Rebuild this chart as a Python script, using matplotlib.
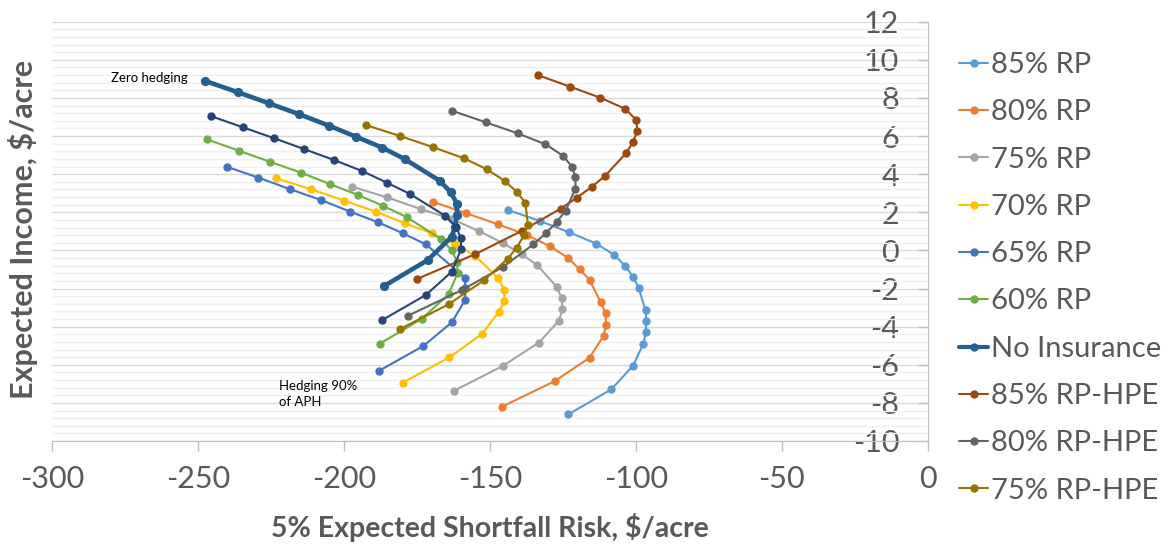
import matplotlib
matplotlib.use('Agg')
import matplotlib.pyplot as plt
from matplotlib.lines import Line2D
from matplotlib.ticker import MultipleLocator

plt.rcParams['font.family'] = ['Lato', 'DejaVu Sans']

# ---- data ----
series_names = ['85% RP', '80% RP', '75% RP', '70% RP', '65% RP', '60% RP',
                'No Insurance', '85% RP-HPE', '80% RP-HPE', '75% RP-HPE', '70% RP-HPE']
series_colors = ['#5B9BD5', '#ED7D31', '#A5A5A5', '#FFC000', '#4472C4', '#70AD47',
                 '#255E91', '#9E480E', '#636363', '#997300', '#264478']

rp85_x = [-143.9, -132.8, -122.8, -113.6, -107.4, -103.6, -100.9, -99.1, -96.7, -96.4, -96.7, -97.4, -101.0, -108.4, -123.1]
rp85_y = [2.12, 1.54, 0.94, 0.36, -0.24, -0.82, -1.40, -1.96, -3.14, -3.70, -4.30, -4.89, -6.05, -7.29, -8.60]

rp80_x = [-169.7, -158.2, -147.2, -137.4, -129.4, -123.4, -119.3, -115.9, -112.1, -110.4, -110.3, -111.0, -115.9, -127.7, -145.9]
rp80_y = [2.56, 1.95, 1.37, 0.81, 0.21, -0.38, -0.99, -1.54, -2.72, -3.29, -3.89, -4.47, -5.63, -6.85, -8.20]

rp75_x = [-197.2, -185.2, -173.7, -163.1, -153.6, -145.4, -139.1, -133.9, -127.1, -125.4, -125.2, -126.3, -133.3, -145.6, -162.5]
rp75_y = [3.34, 2.78, 2.17, 1.65, 1.00, 0.37, -0.21, -0.76, -1.92, -2.51, -3.09, -3.68, -4.84, -6.06, -7.38]

rp70_x = [-223.3, -211.4, -200.0, -189.1, -179.1, -169.9, -161.9, -155.1, -147.1, -145.1, -145.1, -146.9, -152.8, -163.9, -179.9]
rp70_y = [3.78, 3.21, 2.61, 2.03, 1.42, 0.90, 0.33, -0.29, -1.46, -2.08, -2.64, -3.22, -4.39, -5.61, -6.94]

rp65_x = [-240.2, -229.4, -218.5, -208.0, -197.9, -188.4, -179.9, -172.0, -158.5, -158.5, -158.5, -163.1, -172.8, -188.2]
rp65_y = [4.39, 3.82, 3.21, 2.65, 2.03, 1.48, 0.90, 0.32, -1.43, -1.99, -2.60, -3.78, -5.01, -6.33]

rp60_x = [-247.1, -236.0, -225.4, -214.8, -204.8, -195.3, -186.5, -178.5, -166.7, -163.1, -161.3, -161.1, -164.2, -173.4, -187.7]
rp60_y = [5.83, 5.23, 4.65, 4.08, 3.48, 2.91, 2.33, 1.74, 0.58, 0.00, -0.61, -1.18, -2.31, -3.59, -4.89]

noins_x = [-247.6, -236.4, -225.8, -215.3, -205.1, -196.0, -186.9, -179.3, -167.3, -163.4, -161.4, -161.3, -162.0, -163.1, -171.3, -186.3]
noins_y = [8.89, 8.30, 7.72, 7.14, 6.54, 5.97, 5.39, 4.80, 3.66, 3.05, 2.46, 1.86, 1.24, 0.72, -0.50, -1.87]

hpe85_x = [-133.5, -122.5, -112.2, -103.7, -99.8, -99.6, -100.9, -103.4, -110.5, -115.1, -120.2, -125.8, -139.0, -155.1, -174.9]
hpe85_y = [9.19, 8.59, 8.01, 7.43, 6.84, 6.28, 5.69, 5.10, 3.92, 3.34, 2.77, 2.19, 1.03, -0.20, -1.49]

hpe80_x = [-163.1, -151.4, -140.5, -131.0, -125.0, -121.9, -120.7, -120.7, -124.1, -127.2, -130.9, -135.1, -145.4, -159.6, -178.0]
hpe80_y = [7.33, 6.72, 6.14, 5.57, 4.97, 4.39, 3.83, 3.24, 2.08, 1.48, 0.90, 0.32, -0.85, -2.08, -3.42]

hpe75_x = [-192.6, -180.8, -169.4, -158.9, -151.1, -145.0, -140.8, -137.9, -137.0, -138.3, -140.8, -143.9, -151.9, -164.2, -181.0]
hpe75_y = [6.58, 6.00, 5.41, 4.83, 4.26, 3.65, 3.07, 2.50, 1.33, 0.81, 0.15, -0.43, -1.55, -2.83, -4.14]

hpe70_x = [-245.7, -234.7, -223.9, -213.6, -203.4, -193.9, -185.4, -177.4, -165.4, -161.7, -160.0, -159.9, -163.1, -172.0, -186.9]
hpe70_y = [7.05, 6.46, 5.88, 5.31, 4.74, 4.17, 3.56, 2.96, 1.82, 1.24, 0.67, 0.07, -1.12, -2.34, -3.65]

series_x = [rp85_x, rp80_x, rp75_x, rp70_x, rp65_x, rp60_x, noins_x, hpe85_x, hpe80_x, hpe75_x, hpe70_x]
series_y = [rp85_y, rp80_y, rp75_y, rp70_y, rp65_y, rp60_y, noins_y, hpe85_y, hpe80_y, hpe75_y, hpe70_y]

x_ticks = [-300, -250, -200, -150, -100, -50, 0]
y_ticks = [-10, -8, -6, -4, -2, 0, 2, 4, 6, 8, 10, 12]

x_label = '5% Expected Shortfall Risk, $/acre'
y_label = 'Expected Income, $/acre'

# ---- figure ----
W, H = 1174, 548
fig = plt.figure(figsize=(W / 100, H / 100), dpi=100)
ax = fig.add_axes([52.3 / W, 1 - 441 / H, (927.7 - 52.3) / W, (441 - 21.7) / H])

txt_col = '#595959'
grid_major = '#D9D9D9'
grid_minor = '#F0F0F0'

handles = []
for name, col, xs, ys in zip(series_names, series_colors, series_x, series_y):
    thick = name == 'No Insurance'
    ln, = ax.plot(xs, ys, color=col, lw=3.3 if thick else 1.5, marker='o',
                  ms=5.6 if thick else 5.0, mec=col, mfc=col, zorder=3,
                  solid_capstyle='round')
    handles.append(ln)

ax.set_xlim(-300, 0)
ax.set_ylim(-10, 12)
ax.set_xticks(x_ticks)
ax.set_yticks(y_ticks)
ax.yaxis.set_minor_locator(MultipleLocator(0.4))
ax.grid(axis='y', which='major', color=grid_major, lw=1.0, zorder=0)
ax.grid(axis='y', which='minor', color=grid_minor, lw=1.0, zorder=0)
ax.set_axisbelow(True)

for s in ['top', 'right']:
    ax.spines[s].set_visible(False)
ax.spines['left'].set_position(('data', 0))
ax.spines['left'].set_color('#BFBFBF')
ax.spines['bottom'].set_color('#BFBFBF')

ax.tick_params(axis='both', which='major', direction='out', length=7.5, width=1,
               color='#BFBFBF', labelcolor=txt_col, labelsize=22)
ax.tick_params(axis='y', which='minor', length=0)
ax.tick_params(axis='y', which='major', pad=13)
ax.tick_params(axis='x', which='major', pad=10)

ax.set_xticklabels([str(v) for v in x_ticks])
ax.set_yticklabels([str(v) for v in y_ticks])

fig.text(490 / W, 1 - 528 / H, x_label, ha='center', va='center',
         fontsize=20.5, fontweight='bold', color=txt_col)
fig.text(23 / W, 1 - 229 / H, y_label, ha='center', va='center', rotation=90,
         fontsize=22, fontweight='bold', color=txt_col)

ax.text(-280.0, 9.05, 'Zero hedging', ha='left', va='center', fontsize=9.5, color='#000000')
ax.text(-222.3, -6.8, 'Hedging 90%\nof APH', ha='left', va='top', fontsize=9.5,
        color='#000000', linespacing=1.35)

leg = fig.legend(handles[:10], series_names[:10], loc='upper left',
                 bbox_to_anchor=(959 / W, 1 - 52 / H), frameon=False,
                 fontsize=21, handlelength=1.0, handletextpad=0.1,
                 labelspacing=0.73, borderaxespad=0, borderpad=0)
for t in leg.get_texts():
    t.set_color(txt_col)
for lh in leg.legend_handles:
    lh.set_markersize(5)
    lh.set_linewidth(1.5 if lh.get_linewidth() < 3 else 3)

fig.savefig('out.png', dpi=100)
